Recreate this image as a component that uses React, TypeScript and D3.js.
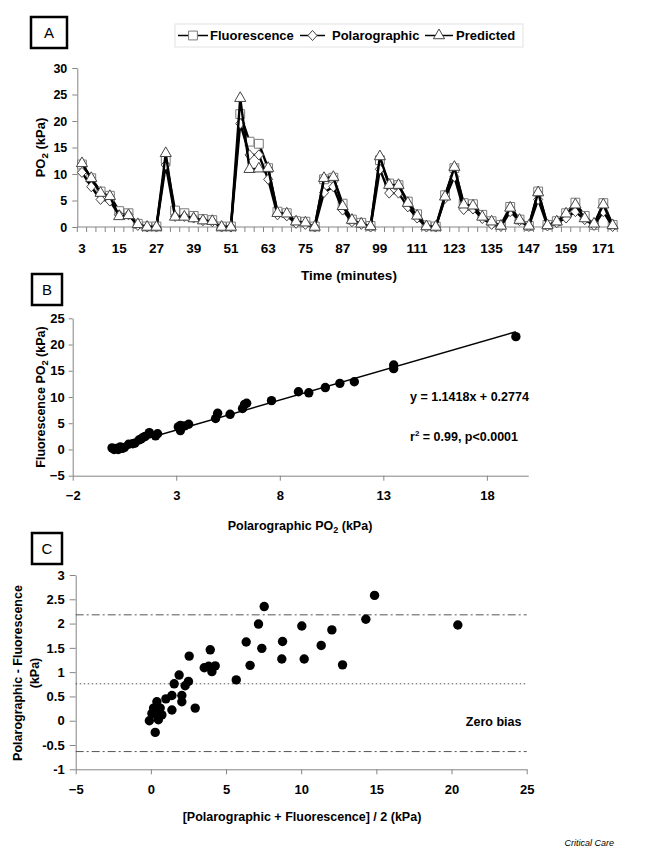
import { useRef, useEffect } from "react";
import * as d3 from "d3";

// ---- data ----
const minutes = [3, 6, 9, 12, 15, 18, 21, 24, 27, 30, 33, 36, 39, 42, 45, 48, 51, 54, 57, 60, 63, 66, 69, 72, 75, 78, 81, 84, 87, 90, 93, 96, 99, 102, 105, 108, 111, 114, 117, 120, 123, 126, 129, 132, 135, 138, 141, 144, 147, 150, 153, 156, 159, 162, 165, 168, 171, 174];
const minuteLabels = [3, 15, 27, 39, 51, 63, 75, 87, 99, 111, 123, 135, 147, 159, 171];

const fluorescence = [11.8, 9.2, 6.7, 5.9, 3.0, 2.6, 0.6, 0.1, 0.1, 12.8, 3.1, 2.6, 2.1, 1.5, 1.3, 0.1, 0.1, 21.3, 16.1, 15.7, 11.1, 2.9, 2.6, 1.1, 1.0, 0.1, 9.0, 9.3, 4.4, 1.4, 0.8, 0.2, 12.6, 8.2, 7.9, 4.8, 2.4, 0.3, 0.1, 6.0, 11.1, 4.5, 4.3, 2.3, 1.1, 0.4, 3.8, 1.4, 0.2, 6.7, 0.4, 1.1, 2.6, 4.6, 2.1, 0.4, 4.5, 0.4];
const polarographic = [10.3, 7.6, 5.2, 4.9, 2.3, 2.3, 0.3, 0, 0, 11.7, 2.0, 2.0, 1.7, 1.2, 1.0, 0, 0, 19.5, 13.6, 13.6, 9.0, 2.3, 2.1, 0.7, 0.5, 0, 6.5, 7.6, 3.2, 1.0, 0.5, 0, 10.9, 6.4, 6.4, 3.8, 1.7, 0, 0, 5.4, 9.5, 3.3, 3.4, 1.6, 0.5, 0.1, 2.9, 1.2, 0.1, 5.2, 0.2, 0.8, 1.7, 2.9, 1.4, 0.3, 2.9, 0.1];
const predicted = [12.0, 9.2, 6.4, 5.8, 2.0, 2.2, 0.5, 0, 0, 13.9, 1.9, 1.9, 1.6, 1.2, 1.1, 0, 0, 24.3, 10.9, 11.0, 11.1, 2.6, 2.5, 1.0, 0.8, 0, 9.2, 9.4, 3.9, 1.3, 0.6, 0.1, 13.3, 7.9, 7.9, 4.5, 2.1, 0.1, 0, 5.7, 11.3, 4.2, 4.0, 1.9, 1.0, 0.2, 3.6, 1.3, 0.2, 6.5, 0.3, 1.0, 2.5, 4.2, 1.6, 0.6, 4.2, 0.3];

// panel B: polarographic (x) vs fluorescence (y)
const scatterPolaro = [-0.1, 0, 0.1, 0.2, 0.3, 0.4, 0.5, 0.7, 0.9, 1.0, 1.2, 1.3, 1.4, 1.5, 1.7, 2.0, 2.1, 3.1, 3.2, 3.2, 3.4, 3.6, 4.9, 5.0, 5.6, 6.2, 6.3, 6.4, 7.6, 8.9, 9.4, 10.2, 10.9, 11.6, 13.5, 13.5, 19.4];
const scatterFluoro = [0.3, 0, 0.2, 0, 0.5, 0.2, 0.4, 1.0, 1.1, 1.2, 1.8, 2.0, 2.3, 2.5, 3.2, 2.6, 3.0, 4.3, 3.6, 4.6, 4.5, 4.8, 5.9, 6.9, 6.7, 7.8, 8.6, 8.8, 9.3, 11.0, 10.8, 11.8, 12.6, 12.9, 15.4, 16.1, 21.5];
const slope = 1.1418;
const intercept = 0.2774;
const fitRange = [-0.2, 19.4];

// panel C: Bland-Altman
const baMean = [-0.1, 0.07, 0.18, 0.29, 0.4, 0.35, 0.5, 0.62, 0.73, 0.44, 1.0, 1.4, 1.4, 1.55, 1.88, 2.06, 2.06, 2.28, 2.5, 2.55, 2.95, 3.55, 3.84, 3.95, 4.06, 4.28, 5.68, 6.34, 6.6, 7.16, 7.38, 7.54, 8.76, 8.71, 10.04, 10.2, 11.33, 12.04, 12.75, 14.3, 14.88, 20.42];
const baDiff = [0, 0.15, 0.26, -0.24, 0.39, 0.22, 0.02, 0.26, 0.12, 0.09, 0.45, 0.52, 0.22, 0.76, 0.94, 0.52, 0.39, 0.72, 0.81, 1.33, 0.26, 1.09, 1.12, 1.46, 1.01, 1.13, 0.84, 1.62, 1.14, 1.99, 1.49, 2.35, 1.63, 1.27, 1.95, 1.27, 1.55, 1.87, 1.15, 2.09, 2.58, 1.97];
const biasMean = 0.76;
const limitUpper = 2.18;
const limitLower = -0.635;

const seriesNames = ["Fluorescence", "Polarographic", "Predicted"];

const FONT = "'Liberation Sans', Arial, Helvetica, sans-serif";
const AXIS_GREY = "#858585";

// diamond a bit narrower than tall, like the Excel marker
const diamondMarker = {
    draw(ctx: d3.Path, size: number) {
        const w = Math.sqrt(size) * 0.7;
        const h = Math.sqrt(size) * 0.78;
        ctx.moveTo(0, -h);
        ctx.lineTo(w, 0);
        ctx.lineTo(0, h);
        ctx.lineTo(-w, 0);
        ctx.closePath();
    }
};

export default function App() {
    const svgRef = useRef<SVGSVGElement>(null);

    useEffect(() => {
        const svg = d3.select<SVGSVGElement, unknown>(svgRef.current as SVGSVGElement);
        svg.selectAll("*").remove();
        svg.attr("font-family", FONT);

        const styleAxis = (fs: number) => (g: d3.Selection<SVGGElement, unknown, null, undefined>) => {
            g.select(".domain").attr("stroke", AXIS_GREY);
            g.selectAll(".tick line").attr("stroke", AXIS_GREY);
            g.selectAll(".tick text")
                .attr("font-family", FONT)
                .attr("font-size", fs)
                .attr("font-weight", "bold")
                .attr("fill", "#000");
            g.attr("font-family", null).attr("font-size", null);
        };

        const labelBox = (x: number, y: number, w: number, h: number, t: string) => {
            svg.append("rect").attr("x", x).attr("y", y).attr("width", w).attr("height", h)
                .attr("fill", "white").attr("stroke", "black").attr("stroke-width", 2.5);
            svg.append("text").attr("x", x + w / 2).attr("y", y + h / 2 + 5.5)
                .attr("text-anchor", "middle").attr("font-size", 15).text(t);
        };

        const yTitle = (cx: number, cy: number, fs: number, parts: [string, boolean][]) => {
            const t = svg.append("text")
                .attr("transform", `translate(${cx + fs * 0.37},${cy}) rotate(-90)`)
                .attr("text-anchor", "middle")
                .attr("font-size", fs)
                .attr("font-weight", "bold");
            parts.forEach(([s, sub], i) => {
                const ts = t.append("tspan").text(s);
                if (sub) ts.attr("font-size", fs * 0.75).attr("dy", 3);
                else if (i > 0 && parts[i - 1][1]) ts.attr("dy", -3);
            });
            return t;
        };

        // ================= Panel A =================
        labelBox(31, 17, 36, 31, "A");

        const xA = d3.scaleBand<number>().domain(minutes).range([77.3, 617.3]).padding(0);
        const bw = xA.bandwidth();
        const cx = (m: number) => (xA(m) as number) + bw / 2;
        const yA = d3.scaleLinear().domain([0, 30]).range([227, 68]);

        svg.append("g")
            .attr("transform", `translate(77.3,0)`)
            .call(d3.axisLeft(yA).ticks(6).tickSize(5).tickSizeOuter(0).tickPadding(5))
            .call(styleAxis(12.5));

        // category axis: ticks between categories
        const gxA = svg.append("g");
        gxA.append("line").attr("x1", 77.3).attr("x2", 617.3).attr("y1", 227).attr("y2", 227).attr("stroke", AXIS_GREY);
        const boundaries = minutes.map(m => xA(m) as number).concat([xA.range()[1]]);
        gxA.selectAll("line.tk").data(boundaries).join("line").attr("class", "tk")
            .attr("x1", d => d).attr("x2", d => d).attr("y1", 227).attr("y2", 232).attr("stroke", AXIS_GREY);
        gxA.selectAll("text").data(minuteLabels).join("text")
            .attr("x", d => cx(d)).attr("y", 253).attr("text-anchor", "middle")
            .attr("font-size", 13.5).attr("font-weight", "bold").text(d => d);

        svg.append("text").attr("x", 349).attr("y", 280).attr("text-anchor", "middle")
            .attr("font-size", 13.5).attr("font-weight", "bold").text("Time (minutes)");
        yTitle(40, 147.5, 13, [["PO", false], ["2", true], [" (kPa)", false]]);

        const symbols = [
            { type: d3.symbolSquare as d3.SymbolType, size: 78, stroke: "#7a7a7a" },
            { type: diamondMarker as d3.SymbolType, size: 42, stroke: "#444" },
            { type: d3.symbolTriangle as d3.SymbolType, size: 54, stroke: "#444" },
        ];
        const seriesData = [fluorescence, polarographic, predicted];
        const line = d3.line<number>().x((_, i) => cx(minutes[i])).y(d => yA(d));

        seriesData.forEach((vals, si) => {
            const g = svg.append("g");
            g.append("path").attr("d", line(vals)).attr("fill", "none")
                .attr("stroke", "#000").attr("stroke-width", 2.4).attr("stroke-linejoin", "round");
            const sym = d3.symbol().type(symbols[si].type).size(symbols[si].size);
            g.selectAll("path.m").data(vals).join("path").attr("class", "m")
                .attr("transform", (d, i) => `translate(${cx(minutes[i])},${yA(d)})`)
                .attr("d", sym() as string)
                .attr("fill", "white").attr("stroke", symbols[si].stroke).attr("stroke-width", 1);
        });

        // legend
        const lg = svg.append("g");
        lg.append("rect").attr("x", 175).attr("y", 24).attr("width", 348).attr("height", 23)
            .attr("fill", "white").attr("stroke", "#e2e2e2");
        const legendItems = [
            { x1: 178, x2: 208, tx: 210 },
            { x1: 300, x2: 325, tx: 332 },
            { x1: 425, x2: 453, tx: 456 },
        ];
        legendItems.forEach((it, i) => {
            lg.append("line").attr("x1", it.x1).attr("x2", it.x2).attr("y1", 35.5).attr("y2", 35.5)
                .attr("stroke", "#000").attr("stroke-width", 1.5);
            lg.append("path").attr("transform", `translate(${(it.x1 + it.x2) / 2},35.5)`)
                .attr("d", d3.symbol().type(symbols[i].type).size(symbols[i].size)() as string)
                .attr("fill", "white").attr("stroke", symbols[i].stroke);
            lg.append("text").attr("x", it.tx).attr("y", 40).attr("font-size", 13)
                .attr("font-weight", "bold").text(seriesNames[i]);
        });

        // ================= Panel B =================
        labelBox(32, 274, 30, 31, "B");
        const xB = d3.scaleLinear().domain([-2, 20]).range([72.7, 528.3]);
        const yB = d3.scaleLinear().domain([-5, 25]).range([475.7, 318.3]);

        svg.append("g").attr("transform", `translate(72.7,0)`)
            .call(d3.axisLeft(yB).tickValues([-5, 0, 5, 10, 15, 20, 25]).tickSize(4).tickSizeOuter(0).tickPadding(4))
            .call(styleAxis(13));
        svg.append("g").attr("transform", `translate(0,475.7)`)
            .call(d3.axisBottom(xB).tickValues([-2, 3, 8, 13, 18]).tickSize(5).tickSizeOuter(0).tickPadding(10))
            .call(styleAxis(13));

        svg.append("line")
            .attr("x1", xB(fitRange[0])).attr("y1", yB(slope * fitRange[0] + intercept))
            .attr("x2", xB(fitRange[1])).attr("y2", yB(slope * fitRange[1] + intercept))
            .attr("stroke", "#000").attr("stroke-width", 1.5);

        svg.append("g").selectAll("circle").data(scatterPolaro).join("circle")
            .attr("cx", d => xB(d)).attr("cy", (_, i) => yB(scatterFluoro[i])).attr("r", 4.7)
            .attr("fill", "#000");

        svg.append("text").attr("x", 410).attr("y", 401).attr("font-size", 12.5).attr("font-weight", "bold")
            .text(`y = ${slope}x + ${intercept}`);
        const r2 = svg.append("text").attr("x", 410).attr("y", 441).attr("font-size", 12.5).attr("font-weight", "bold");
        r2.append("tspan").text("r");
        r2.append("tspan").attr("font-size", 8).attr("dy", -5).text("2");
        r2.append("tspan").attr("dy", 5).text(" = 0.99, p<0.0001");

        const tB = svg.append("text").attr("x", 300).attr("y", 529.5).attr("text-anchor", "middle")
            .attr("font-size", 12.5).attr("font-weight", "bold");
        tB.append("tspan").text("Polarographic PO");
        tB.append("tspan").attr("font-size", 9).attr("dy", 3).text("2");
        tB.append("tspan").attr("dy", -3).text(" (kPa)");
        yTitle(40, 397, 12.5, [["Fluorescence PO", false], ["2", true], [" (kPa)", false]]);

        // ================= Panel C =================
        labelBox(32, 533, 30, 31, "C");
        const xC = d3.scaleLinear().domain([-5, 25]).range([75.7, 526.7]);
        const yC = d3.scaleLinear().domain([-1, 3]).range([769.3, 575]);

        svg.append("g").attr("transform", `translate(75.7,0)`)
            .call(d3.axisLeft(yC).tickValues(d3.range(-1, 3.01, 0.5)).tickFormat(d => String(d)).tickSize(6).tickSizeOuter(0).tickPadding(5))
            .call(styleAxis(13));
        svg.append("g").attr("transform", `translate(0,769.3)`)
            .call(d3.axisBottom(xC).tickValues([-5, 0, 5, 10, 15, 20, 25]).tickSize(5).tickSizeOuter(0).tickPadding(10))
            .call(styleAxis(13));

        const hLine = (v: number, dash: string) => svg.append("line")
            .attr("x1", xC(-5)).attr("x2", xC(25)).attr("y1", yC(v)).attr("y2", yC(v))
            .attr("stroke", "#555").attr("stroke-width", 1).attr("stroke-dasharray", dash);
        hLine(limitUpper, "8,3,2,3");
        hLine(biasMean, "1.5,2.5");
        hLine(limitLower, "8,3,2,3");

        svg.append("g").selectAll("circle").data(baMean).join("circle")
            .attr("cx", d => xC(d)).attr("cy", (_, i) => yC(baDiff[i])).attr("r", 4.7)
            .attr("fill", "#000");

        svg.append("text").attr("x", xC(22.8)).attr("y", yC(0) + 5).attr("text-anchor", "middle")
            .attr("font-size", 12.5).attr("font-weight", "bold").text("Zero bias");

        svg.append("text").attr("x", 302).attr("y", 821).attr("text-anchor", "middle")
            .attr("font-size", 12.5).attr("font-weight", "bold").text("[Polarographic + Fluorescence] / 2 (kPa)");
        svg.append("text").attr("transform", `translate(21.5,673) rotate(-90)`).attr("text-anchor", "middle")
            .attr("font-size", 12.5).attr("font-weight", "bold").text("Polarographic - Fluorescence");
        svg.append("text").attr("transform", `translate(38.5,673) rotate(-90)`).attr("text-anchor", "middle")
            .attr("font-size", 12.5).attr("font-weight", "bold").text("(kPa)");

        svg.append("text").attr("x", 614).attr("y", 846).attr("text-anchor", "end")
            .attr("font-size", 9).attr("font-style", "italic").text("Critical Care");
    }, []);

    return (
        <svg ref={svgRef} width={645} height={849}
            style={{ position: "absolute", left: 0, top: 0, display: "block", background: "white" }} />
    );
}
